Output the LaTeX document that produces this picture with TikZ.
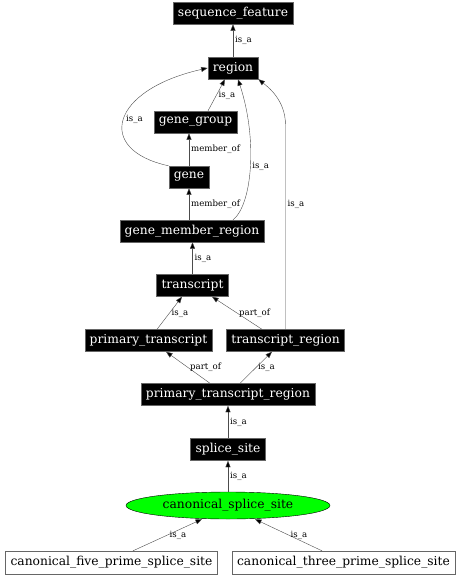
\documentclass[tikz,border=0pt]{standalone}
\usepackage{fontspec}
\setmainfont{DejaVu Serif}
\usetikzlibrary{arrows.meta,shapes.geometric}

\begin{document}
\begin{tikzpicture}[x=1pt,y=-1pt,
  term/.style={draw=black!60,fill=black,text=white,font=\fontsize{12.3}{13}\selectfont,inner xsep=5pt,inner ysep=0pt,minimum height=22pt},
  leaf/.style={draw=black!60,fill=white,font=\fontsize{12.3}{13}\selectfont,inner xsep=5pt,inner ysep=0pt,minimum height=23pt},
  focus/.style={ellipse,draw=black,fill=green,font=\fontsize{12.3}{13}\selectfont,inner sep=0pt,minimum width=204pt,minimum height=27pt},
  rel/.style={draw=black!70,-{Triangle[length=6.5pt,width=5pt,fill=black]}},
  lab/.style={font=\fontsize{8.6}{9}\selectfont,right,inner sep=2pt}]
\useasboundingbox (0,0) rectangle (461,576);

% terms
\node [term] (sequence_feature) at (233, 13) {sequence\_feature};
\node [term] (region) at (233, 68) {region};
\node [term] (gene_group) at (195.5, 122) {gene\_group};
\node [term] (gene) at (189, 177) {gene};
\node [term] (gene_member_region) at (192, 231) {gene\_member\_region};
\node [term] (transcript) at (192.5, 285.5) {transcript};
\node [term] (primary_transcript) at (148.5, 340.5) {primary\_transcript};
\node [term] (transcript_region) at (285.5, 340.5) {transcript\_region};
\node [term] (primary_transcript_region) at (228, 394.5) {primary\_transcript\_region};
\node [term] (splice_site) at (228, 449.5) {splice\_site};
\node [focus] (canonical_splice_site) at (228, 505.5) {canonical\_splice\_site};
\node [leaf] (five_prime) at (111.5, 562.5) {canonical\_five\_prime\_splice\_site};
\node [leaf] (three_prime) at (343.5, 562.5) {canonical\_three\_prime\_splice\_site};

% relations
\draw [rel] (region) -- node [lab] {is\_a} (sequence_feature);
\draw [rel] (gene_group.north -| 208, 0) -- node [lab] {is\_a} (region.south -| 225, 0);
\draw [rel] (gene.north west) .. controls (95, 150) and (110, 90) .. node [lab] {is\_a} (region.west);
\draw [rel] (gene) -- node [lab] {member\_of} (gene_group.south -| gene);
\draw [rel] (gene_member_region.north -| 233, 0) .. controls (252, 205) and (258, 140) .. node [lab] {is\_a} (region.south -| 238, 0);
\draw [rel] (gene_member_region.north -| gene) -- node [lab] {member\_of} (gene.south);
\draw [rel] (transcript_region.north) -- node [lab, pos=0.61] {is\_a} (285.5, 125) .. controls (285.5, 100) and (268, 87) .. (region.south east);
\draw [rel] (transcript) -- node [lab] {is\_a} (gene_member_region.south -| transcript);
\draw [rel] (primary_transcript.north -| 157, 0) -- node [lab] {is\_a} (transcript.south -| 182, 0);
\draw [rel] (transcript_region.north -| 262, 0) -- node [lab] {part\_of} (transcript.south -| 212, 0);
\draw [rel] (primary_transcript_region.north -| 210, 0) -- node [lab] {part\_of} (primary_transcript.south -| 166, 0);
\draw [rel] (primary_transcript_region.north -| 240, 0) -- node [lab] {is\_a} (transcript_region.south -| 272, 0);
\draw [rel] (splice_site) -- node [lab] {is\_a} (primary_transcript_region);
\draw [rel] (canonical_splice_site) -- node [lab] {is\_a} (splice_site);
\draw [rel] (five_prime.north -| 133, 0) -- node [lab] {is\_a} (canonical_splice_site.south -| 202, 0);
\draw [rel] (three_prime.north -| 322, 0) -- node [lab] {is\_a} (canonical_splice_site.south -| 255, 0);
\end{tikzpicture}
\end{document}
